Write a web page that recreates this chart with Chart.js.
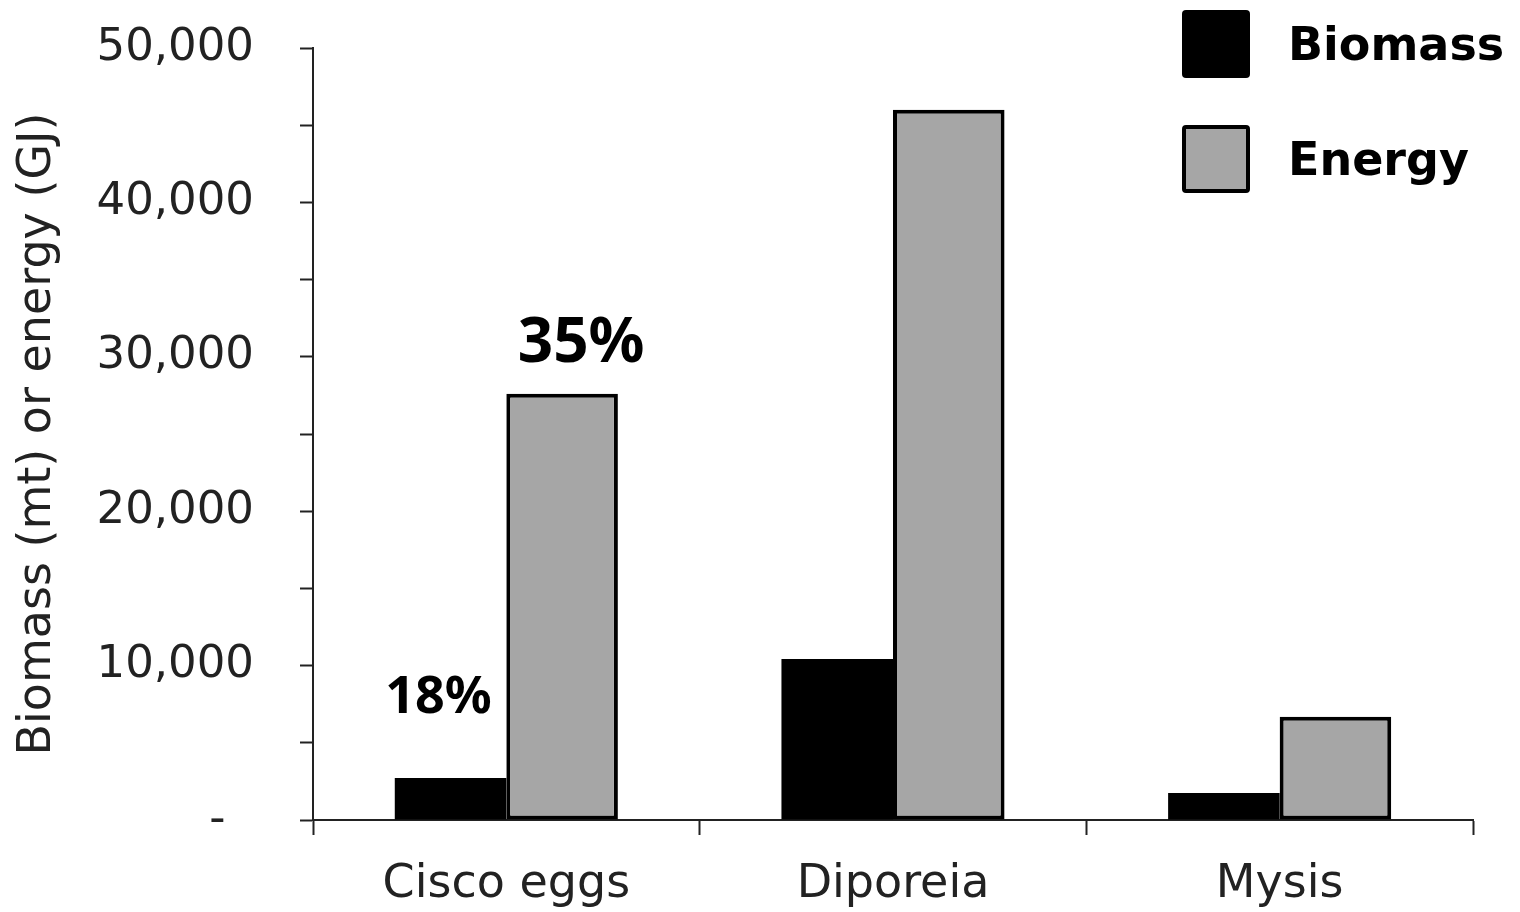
<!DOCTYPE html>
<html lang="en">
<head>
    <meta charset="UTF-8">
    <title>Biomass and Energy</title>
    <script src="https://cdn.jsdelivr.net/npm/chart.js"></script>
    <style>
        body {
            margin: 0;
            background: #ffffff;
        }
        #wrap {
            position: relative;
            width: 1520px;
            height: 912px;
        }
        canvas {
            position: absolute;
            left: 0;
            top: 0;
        }
        .legend {
            position: absolute;
            left: 1182px;
            top: 0;
            font-family: "DejaVu Sans", sans-serif;
            font-weight: bold;
            font-size: 46px;
            color: #000;
        }
        .legend .item {
            position: absolute;
            left: 0;
            white-space: nowrap;
        }
        .legend .box {
            position: absolute;
            left: 0;
            top: 0;
            width: 68px;
            height: 68px;
            border-radius: 4px;
            box-sizing: border-box;
        }
        .legend .label {
            position: absolute;
            left: 106px;
            top: 0;
            line-height: 68px;
        }
    </style>
</head>
<body>
<div id="wrap">
    <canvas id="chart" width="1520" height="912"></canvas>
    <div class="legend">
        <div class="item" style="top:10px">
            <div class="box" style="background:#000000"></div>
            <span class="label">Biomass</span>
        </div>
        <div class="item" style="top:125px">
            <div class="box" style="background:#a6a6a6;border:4px solid #000"></div>
            <span class="label">Energy</span>
        </div>
    </div>
</div>

<script>
    // data
    const categories = ['Cisco eggs', 'Diporeia', 'Mysis'];
    const biomass = [2720, 10430, 1750];
    const energy = [27600, 46000, 6680];
    const yTicks = ['-', '10,000', '20,000', '30,000', '40,000', '50,000'];
    const notes = [
        { text: '18%', dataset: 0, index: 0, size: 52, dx: -12, dy: -80 },
        { text: '35%', dataset: 1, index: 0, size: 62, dx: 19, dy: -50 }
    ];

    // percentage notes placed from the bar elements
    const notesPlugin = {
        id: 'notes',
        afterDatasetsDraw(chart) {
            const ctx = chart.ctx;
            ctx.save();
            ctx.fillStyle = '#000';
            ctx.textAlign = 'center';
            ctx.textBaseline = 'middle';
            notes.forEach(n => {
                const bar = chart.getDatasetMeta(n.dataset).data[n.index];
                ctx.font = 'bold ' + n.size + 'px "Noto Sans", sans-serif';
                ctx.fillText(n.text, bar.x + n.dx, bar.y + n.dy);
            });
            ctx.restore();
        }
    };

    const chart = new Chart(document.getElementById('chart'), {
        type: 'bar',
        data: {
            labels: categories,
            datasets: [{
                label: 'Biomass',
                data: biomass,
                backgroundColor: '#000000',
                borderWidth: 0,
                barPercentage: 1,
                categoryPercentage: 0.577
            }, {
                label: 'Energy',
                data: energy,
                backgroundColor: '#a6a6a6',
                borderColor: '#000000',
                borderWidth: 4,
                borderSkipped: false,
                barPercentage: 1,
                categoryPercentage: 0.577
            }]
        },
        options: {
            responsive: false,
            animation: false,
            layout: {
                padding: { top: 48, right: 47, bottom: 0, left: 0 }
            },
            plugins: {
                legend: { display: false },
                tooltip: { enabled: false }
            },
            scales: {
                x: {
                    grid: {
                        offset: true,
                        drawOnChartArea: false,
                        tickLength: 15,
                        tickColor: '#222',
                        tickWidth: 2
                    },
                    border: { color: '#222', width: 2 },
                    ticks: {
                        color: '#222',
                        padding: 22,
                        font: { family: '"DejaVu Sans", sans-serif', size: 46 }
                    },
                    afterFit(scale) { scale.height = 92; }
                },
                y: {
                    min: 0,
                    max: 50000,
                    grid: {
                        drawOnChartArea: false,
                        tickLength: 13,
                        tickColor: '#222',
                        tickWidth: 2
                    },
                    border: { color: '#222', width: 2 },
                    ticks: {
                        stepSize: 5000,
                        color: '#222',
                        padding: 46,
                        font: { family: '"DejaVu Sans", sans-serif', size: 45 },
                        callback(value) {
                            if (value % 10000 !== 0) return '';
                            const label = yTicks[value / 10000];
                            return value === 0 ? label + '  ' : label;
                        }
                    },
                    title: {
                        display: true,
                        text: 'Biomass (mt) or energy (GJ)',
                        color: '#222',
                        padding: { top: 10, bottom: 0 },
                        font: { family: '"DejaVu Sans", sans-serif', size: 46 }
                    },
                    afterFit(scale) {
                        scale.width = 313;
                        scale.paddingTop = 0;
                        scale.paddingBottom = 0;
                    }
                }
            }
        },
        plugins: [notesPlugin]
    });
</script>
</body>
</html>
